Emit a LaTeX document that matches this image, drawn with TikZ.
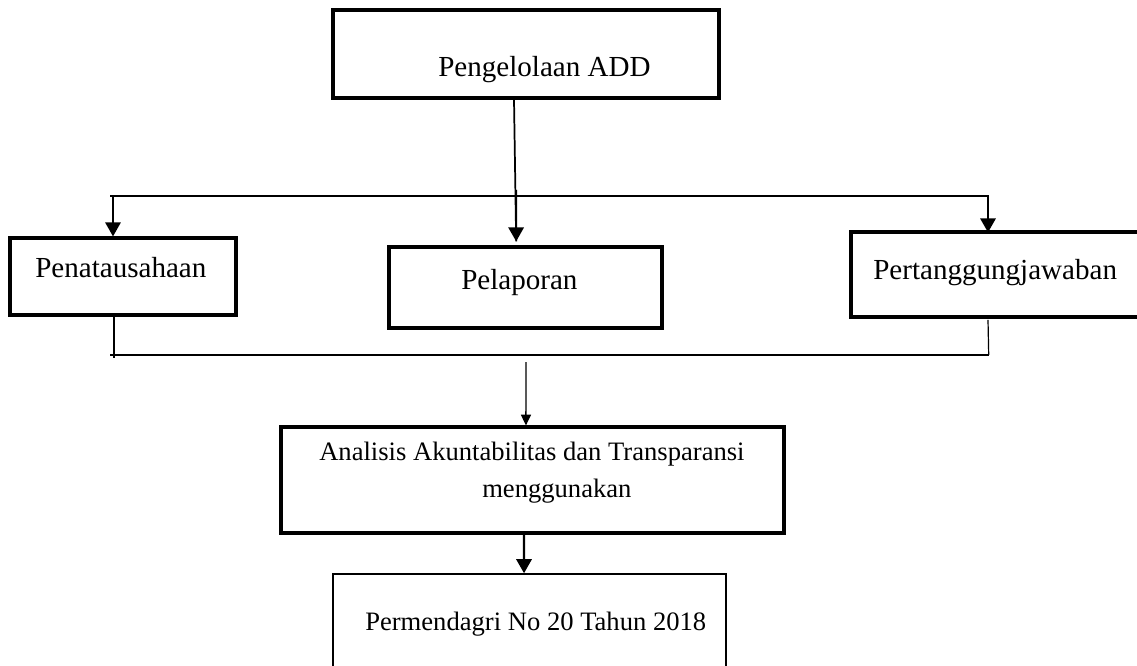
\documentclass[tikz,border=0pt]{standalone}
\usepackage{fontspec}
\setmainfont{Liberation Serif}
\usetikzlibrary{arrows.meta}
\begin{document}
\begin{tikzpicture}[x=0.75pt,y=-0.75pt,
  box/.style={draw=black,line width=2.4pt,rectangle,inner sep=0pt},
  thinbox/.style={draw=black,line width=1.2pt,rectangle,inner sep=0pt},
  txt/.style={anchor=base west,inner sep=0pt,font=\fontsize{21.8}{27.7}\selectfont},
  stxt/.style={anchor=base west,inner sep=0pt,font=\fontsize{19.95}{27.7}\selectfont},
  conn/.style={draw=black,line width=1.5pt},
  thinconn/.style={draw=black,line width=0.9pt},
  arr/.style={conn,-{Triangle[width=11.5pt,length=10.5pt]}},
  smallarr/.style={draw=black,line width=1.1pt,-{Triangle[width=7.5pt,length=8pt]}}
]
\useasboundingbox[fill=white] (0,0) rectangle (1137,666);

% boxes
\node[box,minimum width=289.5pt,minimum height=66pt] (top) at (526,54) {};
\node[box,minimum width=169.5pt,minimum height=57.75pt] (pen) at (123,276.5) {};
\node[box,minimum width=204.75pt,minimum height=60.75pt] (pel) at (525.5,287.5) {};
\node[box,minimum width=220.5pt,minimum height=63.75pt] (per) at (998,274.5) {};
\node[box,minimum width=377.25pt,minimum height=79.5pt] (ana) at (532.5,480) {};
\node[thinbox,minimum width=294.75pt,minimum height=79.5pt] (prm) at (529.5,627) {};

% texts
\node[txt] (ttop) at (438,77) {Pengelolaan ADD};
\node[txt] (tpen) at (35,277) {Penatausahaan};
\node[txt] (tpel) at (461,290) {Pelaporan};
\node[txt] (tper) at (873,280) {Pertanggungjawaban};
\node[stxt] (tana1) at (319,460) {Analisis Akuntabilitas dan Transparansi};
\node[stxt] (tana2) at (482,497) {menggunakan};
\node[stxt] (tprm) at (365,630) {Permendagri No 20 Tahun 2018};

% junction coordinates
\coordinate (hl) at (110,196);
\coordinate (hr) at (988.7,196);
\coordinate (bl) at (110,355);
\coordinate (br) at (988.7,355);

% top distribution
\draw[conn,line width=1.3pt] ([xshift=-9pt]top.south) -- ([xshift=-7pt,yshift=3pt]pel.north);
\draw[arr] (516,190) -- ([xshift=-7pt,yshift=3pt]pel.north);
\draw[conn] (hl) -- (hr);
\draw[arr] (113,196) -- ([xshift=-7.5pt]pen.north);
\draw[arr] (988,196) -- ([xshift=-7.5pt,yshift=-1.5pt]per.north);

% bottom collection
\draw[thinconn] ([xshift=-6.75pt,yshift=2pt]pen.south) -- (114,358);
\draw[thinconn] ([xshift=-7.5pt,yshift=-1pt]per.south) -- (br);
\draw[conn,line width=1.2pt] (bl) -- (br);

% to analysis
\draw[smallarr] (526,362) -- ([xshift=-4.9pt]ana.north);
\draw[arr,line width=1.6pt] ([xshift=-6.4pt]ana.south) -- ([xshift=-4.1pt]prm.north);
\end{tikzpicture}
\end{document}
